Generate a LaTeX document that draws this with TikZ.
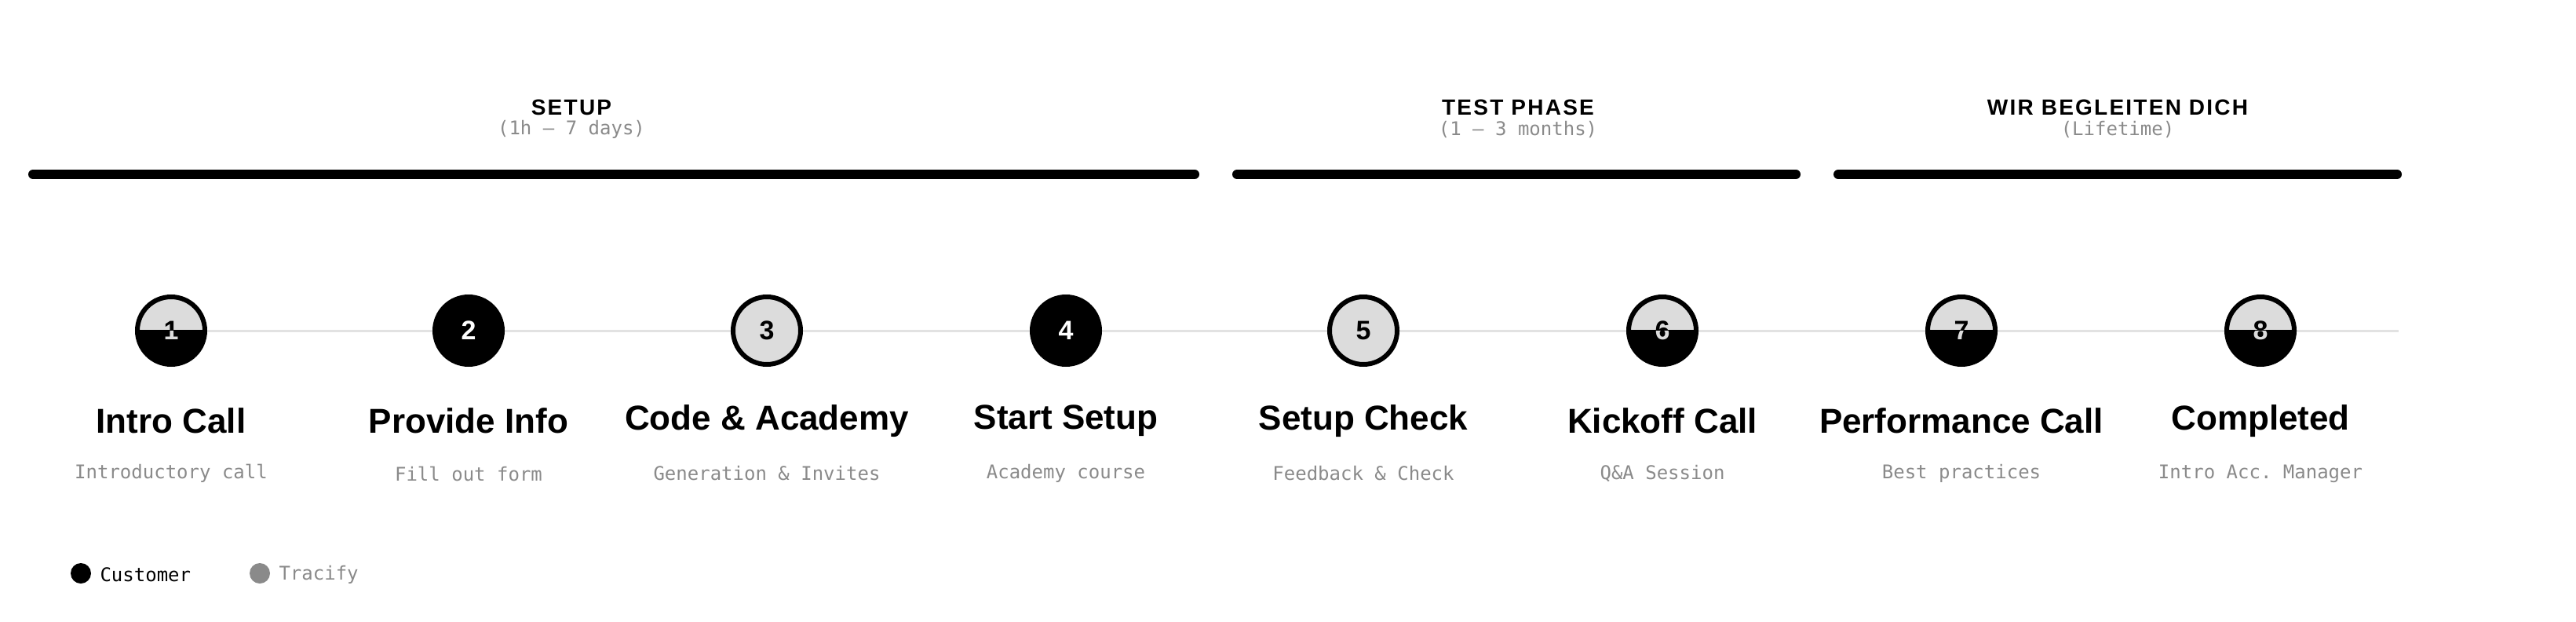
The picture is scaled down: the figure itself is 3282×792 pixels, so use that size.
\documentclass[tikz,border=0pt]{standalone}
\usepackage{fontspec}
\setmainfont{Liberation Sans}
\newfontfamily\hdfont[LetterSpace=8]{Liberation Sans}
\setmonofont{DejaVu Sans Mono}
\definecolor{lgray}{HTML}{DCDCDC}
\definecolor{tgray}{HTML}{8A8A8A}
\definecolor{rule}{HTML}{E2E2E2}
\begin{document}
\begin{tikzpicture}[x=1pt,y=-1pt,
  phasebar/.style={line width=12pt,line cap=round,black},
  hd/.style={font=\fontsize{28}{30}\selectfont\hdfont\bfseries,anchor=center},
  hdsub/.style={font=\fontsize{24}{26}\selectfont\ttfamily,text=tgray,anchor=center},
  ttl/.style={font=\fontsize{44}{48}\selectfont\bfseries,anchor=center},
  sub/.style={font=\fontsize{24}{26}\selectfont\ttfamily,text=tgray,anchor=center},
  num/.style={font=\fontsize{34}{36}\selectfont\bfseries,anchor=center},
  leg/.style={font=\fontsize{24}{26}\selectfont\ttfamily,anchor=west}]
\useasboundingbox (0,0) rectangle (3282,792);
% phases
\coordinate (b1s) at (42,222); \coordinate (b1e) at (1522,222);
\coordinate (b2s) at (1576,222); \coordinate (b2e) at (2288,222);
\coordinate (b3s) at (2342,222); \coordinate (b3e) at (3054,222);
\draw[phasebar] (b1s) -- (b1e);
\draw[phasebar] (b2s) -- (b2e);
\draw[phasebar] (b3s) -- (b3e);
\node[hd] (h1) at (728,137) {SETUP};
\node[hdsub] (h1s) at (728,165) {(1h – 7 days)};
\node[hd] (h2) at (1934,137) {TEST PHASE};
\node[hdsub] (h2s) at (1934,165) {(1 – 3 months)};
\node[hd] (h3) at (2698,137) {WIR BEGLEITEN DICH};
\node[hdsub] (h3s) at (2698,165) {(Lifetime)};
% timeline
\coordinate (ls) at (218,421); \coordinate (le) at (3056,421);
\draw[rule,line width=3pt] (ls) -- (le);
\foreach \i/\x/\t/\s/\k in {1/218/Intro Call/Introductory call/h,2/597/Provide Info/Fill out form/b,3/977/Code \& Academy/Generation \& Invites/g,4/1358/Start Setup/Academy course/b,5/1737/Setup Check/Feedback \& Check/g,6/2118/Kickoff Call/Q\&A Session/h,7/2499/Performance Call/Best practices/h,8/2880/Completed/Intro Acc. Manager/h}{
  \coordinate (c\i) at (\x,421);
  \if\k b
    \fill[black] (c\i) circle (46);
    \node[num,text=white] (n\i) at (c\i) {\i};
  \fi
  \if\k g
    \filldraw[fill=lgray,draw=black,line width=6pt] (c\i) circle (43);
    \node[num] (n\i) at (c\i) {\i};
  \fi
  \if\k h
    \fill[lgray] (c\i) circle (43);
    \begin{scope}
      \clip (\x-50,421) rectangle (\x+50,471);
      \fill[black] (c\i) circle (43);
    \end{scope}
    \draw[black,line width=6pt] (c\i) circle (43);
    \draw[black,line width=3pt] (\x-43,421) -- (\x+43,421);
    \node[num] (n\i) at (c\i) {\i};
    \begin{scope}
      \clip (\x-50,421) rectangle (\x+50,471);
      \node[num,text=lgray] at (c\i) {\i};
    \end{scope}
  \fi
  \node[ttl] (t\i) at (\x,536) {\t};
  \node[sub] (s\i) at (\x,603) {\s};
}
% legend
\fill[black] (103,730) circle (13);
\node[leg] (lc) at (124,732) {Customer};
\fill[tgray] (331,730) circle (13);
\node[leg,text=tgray] (lt) at (352,732) {Tracify};
\end{tikzpicture}
\end{document}
